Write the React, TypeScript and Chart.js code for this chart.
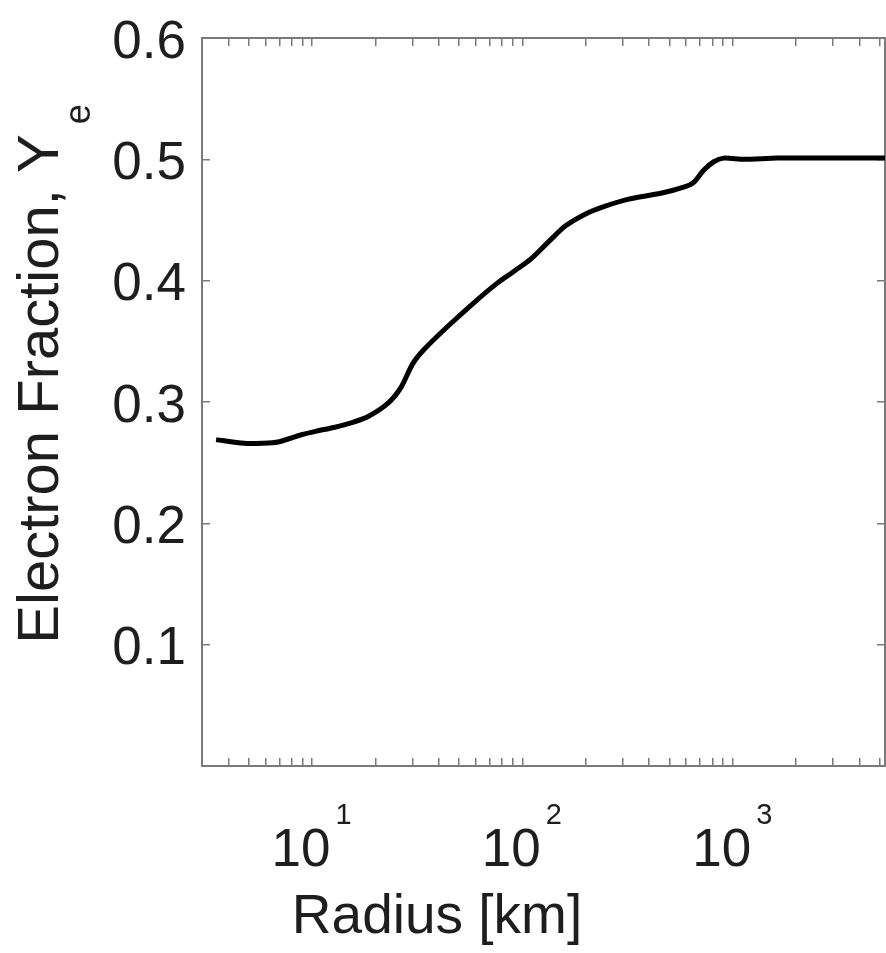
import React, { useEffect, useRef } from 'react';
import { Chart, registerables } from 'chart.js';

Chart.register(...registerables);

// ---- data ----
const RADIUS_KM = [3.5, 4.75, 5.8, 6.9, 8.9, 10.5, 12.7, 15.5, 18.5, 23, 26.5, 30, 34, 44, 59, 76, 90, 110, 135, 160, 200, 244, 317, 455, 585, 653, 728, 813, 906, 1127, 1637, 5300];
const ELECTRON_FRACTION = [0.269, 0.266, 0.266, 0.267, 0.273, 0.276, 0.279, 0.283, 0.288, 0.299, 0.312, 0.331, 0.343, 0.362, 0.382, 0.398, 0.407, 0.418, 0.433, 0.445, 0.455, 0.461, 0.467, 0.472, 0.477, 0.481, 0.491, 0.498, 0.501, 0.5, 0.501, 0.501];

const X_MIN = 3;
const X_MAX = 5300;
const Y_MIN = 0;
const Y_MAX = 0.6;

const X_MAJOR_TICKS = [10, 100, 1000];
const X_MAJOR_LABEL = '10';
const X_EXPONENTS = ['1', '2', '3'];
const X_MINOR_TICKS = [3, 4, 5, 6, 7, 8, 9, 20, 30, 40, 50, 60, 70, 80, 90, 200, 300, 400, 500, 600, 700, 800, 900, 2000, 3000, 4000, 5000];
const Y_TICKS = [0, 0.1, 0.2, 0.3, 0.4, 0.5, 0.6];
const Y_TICK_LABELS = ['', '0.1', '0.2', '0.3', '0.4', '0.5', '0.6'];

const X_TITLE = 'Radius [km]';
const Y_TITLE = 'Electron Fraction, Y';
const Y_TITLE_SUB = 'e';

// ---- styling ----
const FONT = "'Liberation Sans', Arial, Helvetica, sans-serif";
const TEXT_COLOR = '#1e1e1e';
const AXIS_COLOR = '#7a7a7a';
const TICK_FONT = 53;
const X_LABEL_SHIFT = -11;

const ALL_X_TICKS = [...X_MINOR_TICKS, ...X_MAJOR_TICKS].sort((a, b) => a - b);

const zeroPadding = (s: any) => {
  s.paddingLeft = 0;
  s.paddingRight = 0;
  s.paddingTop = 0;
  s.paddingBottom = 0;
};

const richTextPlugin = {
  id: 'richText',
  afterDraw(chart: any) {
    const ctx = chart.ctx as CanvasRenderingContext2D;
    const { left, top, bottom } = chart.chartArea;
    const xs = chart.scales.x;
    ctx.save();
    ctx.fillStyle = TEXT_COLOR;

    // superscript exponents of the x tick labels
    ctx.font = `${TICK_FONT}px ${FONT}`;
    const baseW = ctx.measureText(X_MAJOR_LABEL).width;
    ctx.font = `29px ${FONT}`;
    ctx.textAlign = 'left';
    ctx.textBaseline = 'alphabetic';
    X_MAJOR_TICKS.forEach((v, i) => {
      const px = xs.getPixelForValue(v) + X_LABEL_SHIFT + baseW / 2 + 5;
      ctx.fillText(X_EXPONENTS[i], px, bottom + 58);
    });

    // x axis title
    ctx.font = `55px ${FONT}`;
    ctx.textAlign = 'center';
    ctx.fillText(X_TITLE, left + 235, bottom + 167);

    // y axis title with subscript
    ctx.translate(42, (top + bottom) / 2 - 13);
    ctx.rotate(-Math.PI / 2);
    ctx.font = `58px ${FONT}`;
    ctx.textAlign = 'center';
    ctx.textBaseline = 'middle';
    ctx.fillText(Y_TITLE, 0, 0);
    const tw = ctx.measureText(Y_TITLE).width;
    ctx.font = `36px ${FONT}`;
    ctx.textAlign = 'left';
    ctx.textBaseline = 'alphabetic';
    ctx.fillText(Y_TITLE_SUB, tw / 2 + 10, 48);
    ctx.restore();
  },
};

const gridOpts = {
  drawOnChartArea: false,
  drawTicks: true,
  tickLength: -8,
  color: AXIS_COLOR,
  lineWidth: 1.5,
};
const borderOpts = { display: true, color: AXIS_COLOR, width: 2 };

export default function App() {
  const canvasRef = useRef<HTMLCanvasElement | null>(null);

  useEffect(() => {
    if (!canvasRef.current) return;
    const chart = new Chart(canvasRef.current, {
      type: 'line',
      data: {
        datasets: [
          {
            data: RADIUS_KM.map((r, i) => ({ x: r, y: ELECTRON_FRACTION[i] })),
            borderColor: '#000000',
            borderWidth: 5,
            pointRadius: 0,
            tension: 0.25,
            fill: false,
            xAxisID: 'x',
            yAxisID: 'y',
          },
        ],
      },
      options: {
        responsive: false,
        animation: false,
        devicePixelRatio: 1,
        layout: { padding: { left: 0, right: 1, top: 38, bottom: 0 } },
        plugins: {
          legend: { display: false },
          tooltip: { enabled: false },
          title: { display: false },
        },
        scales: {
          x: {
            type: 'logarithmic',
            position: 'bottom',
            min: X_MIN,
            max: X_MAX,
            afterBuildTicks: (s: any) => {
              s.ticks = ALL_X_TICKS.map((v) => ({ value: v }));
            },
            afterFit: (s: any) => {
              s.height = 187;
              zeroPadding(s);
            },
            ticks: {
              autoSkip: false,
              maxRotation: 0,
              minRotation: 0,
              labelOffset: X_LABEL_SHIFT,
              padding: 62,
              color: TEXT_COLOR,
              font: { family: FONT, size: TICK_FONT },
              callback: (v: any) => (X_MAJOR_TICKS.indexOf(Number(v)) >= 0 ? X_MAJOR_LABEL : ''),
            },
            grid: gridOpts,
            border: borderOpts,
          },
          x2: {
            type: 'logarithmic',
            position: 'top',
            min: X_MIN,
            max: X_MAX,
            afterBuildTicks: (s: any) => {
              s.ticks = ALL_X_TICKS.map((v) => ({ value: v }));
            },
            afterFit: (s: any) => {
              s.height = 0;
              zeroPadding(s);
            },
            ticks: { display: false },
            grid: gridOpts,
            border: borderOpts,
          },
          y: {
            type: 'linear',
            position: 'left',
            min: Y_MIN,
            max: Y_MAX,
            afterBuildTicks: (s: any) => {
              s.ticks = Y_TICKS.map((v) => ({ value: v }));
            },
            afterFit: (s: any) => {
              s.width = 202;
              zeroPadding(s);
            },
            ticks: {
              padding: 24,
              labelOffset: 5,
              color: TEXT_COLOR,
              font: { family: FONT, size: TICK_FONT },
              callback: (_v: any, i: number) => Y_TICK_LABELS[i],
            },
            grid: gridOpts,
            border: borderOpts,
          },
          y2: {
            type: 'linear',
            position: 'right',
            min: Y_MIN,
            max: Y_MAX,
            afterBuildTicks: (s: any) => {
              s.ticks = Y_TICKS.map((v) => ({ value: v }));
            },
            afterFit: (s: any) => {
              s.width = 0;
              zeroPadding(s);
            },
            ticks: { display: false },
            grid: gridOpts,
            border: borderOpts,
          },
        },
      } as any,
      plugins: [richTextPlugin],
    });
    return () => chart.destroy();
  }, []);

  return (
    <div style={{ position: 'absolute', left: 0, top: 0, width: 886, height: 953, background: '#ffffff', overflow: 'hidden' }}>
      <canvas ref={canvasRef} width={886} height={953} style={{ display: 'block' }} />
    </div>
  );
}
